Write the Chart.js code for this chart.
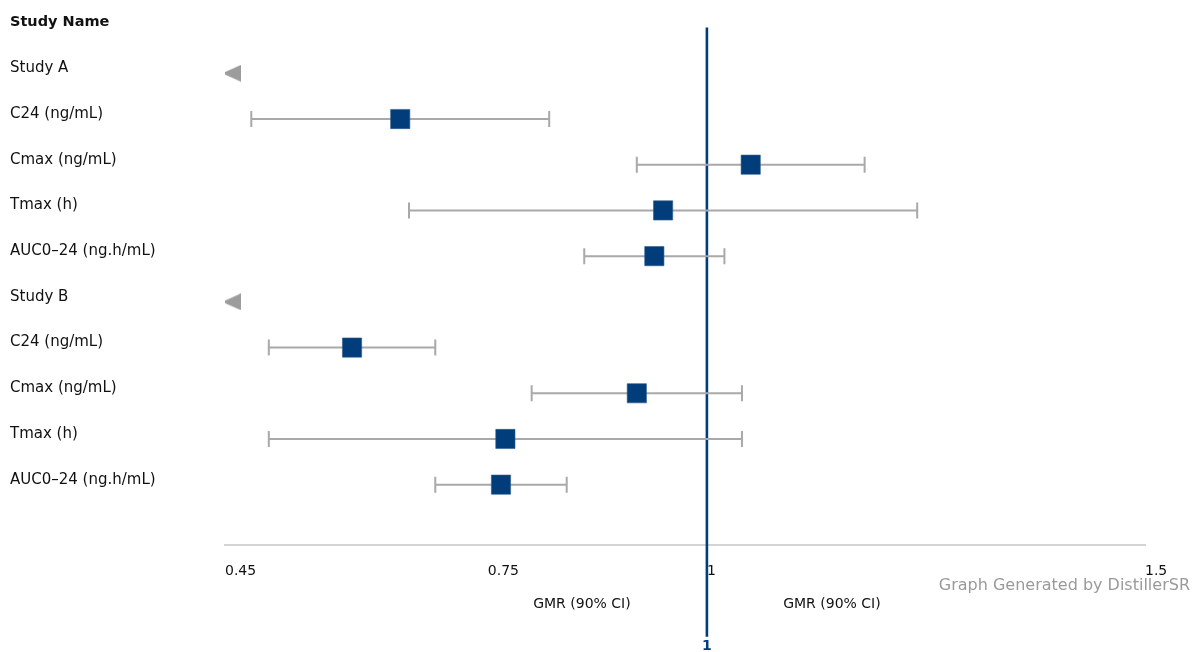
<!DOCTYPE html>
<html>
<head>
<meta charset="utf-8">
<title>GMR forest plot</title>
<script src="https://cdn.jsdelivr.net/npm/chart.js@4.4.0/dist/chart.umd.min.js"></script>
<style>
  html, body { margin: 0; padding: 0; background: #fff; }
  #wrap { width: 1192px; height: 652px; position: relative; }
</style>
</head>
<body>
<div id="wrap"><canvas id="forest"></canvas></div>
<script>
// rows are numbered from the top, the header sits on row -1
const headerLabel = 'Study Name';
const rowLabels = ['Study A', 'C24 (ng/mL)', 'Cmax (ng/mL)', 'Tmax (h)', 'AUC0\u201324 (ng.h/mL)',
                   'Study B', 'C24 (ng/mL)', 'Cmax (ng/mL)', 'Tmax (h)', 'AUC0\u201324 (ng.h/mL)'];

// group rows get the little grey arrow
const groupRows = [0, 5];
const groupArrowX = [0.4576, 0.4576];

// outcome rows with point estimate and 90% CI
const outcomeRows = [1, 2, 3, 4, 6, 7, 8, 9];
const gmr    = [0.65, 1.05, 0.95, 0.94, 0.595, 0.92, 0.77, 0.765];
const ciLow  = [0.48, 0.92, 0.66, 0.86, 0.50, 0.80, 0.50, 0.69];
const ciHigh = [0.82, 1.18, 1.24, 1.02, 0.69, 1.04, 1.04, 0.84];

const xTicks = [0.45, 0.75, 1, 1.5];
const refValue = 1;
const axisTitle = 'GMR (90% CI)';
const credit = 'Graph Generated by DistillerSR';

const NAVY = '#003d7a';
const GREY = '#a9a9a9';
const FONT = '"DejaVu Sans", Verdana, sans-serif';

// left pointing arrow used as point style
const arrow = document.createElement('canvas');
arrow.width = 19; arrow.height = 17;
(function () {
  const c = arrow.getContext('2d');
  c.fillStyle = '#9c9c9c';
  c.beginPath();
  c.moveTo(0, 8.5); c.lineTo(19, 0); c.lineTo(19, 17);
  c.closePath(); c.fill();
})();

const datasets = [];

// reference line at GMR = 1, runs down past the axis
datasets.push({
  type: 'line',
  data: [{x: refValue, y: -1}, {x: refValue, y: 12.33}],
  borderColor: NAVY, borderWidth: 2.6,
  pointRadius: 0, clip: false, order: 4
});

// CI whiskers, one little line per row
outcomeRows.forEach((r, i) => {
  datasets.push({
    type: 'line',
    data: [{x: ciLow[i], y: r}, {x: ciHigh[i], y: r}],
    borderColor: GREY, borderWidth: 2,
    pointStyle: 'line', pointRotation: 90, pointRadius: 8,
    pointBorderColor: GREY, pointBorderWidth: 2,
    order: 3
  });
});

// point estimates
datasets.push({
  type: 'scatter',
  data: outcomeRows.map((r, i) => ({x: gmr[i], y: r})),
  pointStyle: 'rect', pointRadius: 13.6,
  backgroundColor: NAVY, borderColor: '#2d5d8f', borderWidth: 0.6,
  order: 1
});

// group arrows
datasets.push({
  type: 'scatter',
  data: groupRows.map((r, i) => ({x: groupArrowX[i], y: r})),
  pointStyle: arrow, pointRadius: 10,
  order: 2
});

const extraText = {
  id: 'extraText',
  afterDraw(chart) {
    const ctx = chart.ctx;
    const px = chart.scales.x.getPixelForValue(refValue);
    ctx.save();
    ctx.textBaseline = 'middle';
    ctx.textAlign = 'center';
    ctx.fillStyle = '#111';
    ctx.font = '14px ' + FONT;
    ctx.fillText(axisTitle, px - 125, 604);
    ctx.fillText(axisTitle, px + 125, 604);
    ctx.font = 'bold 14px ' + FONT;
    ctx.fillStyle = NAVY;
    ctx.fillText(String(refValue), px, 646);
    ctx.font = '16px ' + FONT;
    ctx.fillStyle = '#9a9a9a';
    ctx.textAlign = 'right';
    ctx.fillText(credit, 1190, 586);
    ctx.restore();
  }
};

new Chart(document.getElementById('forest'), {
  type: 'scatter',
  data: { datasets: datasets },
  plugins: [extraText],
  options: {
    responsive: true,
    maintainAspectRatio: false,
    animation: false,
    events: [],
    layout: { padding: { left: 10, right: 47, top: 27.6, bottom: 0 } },
    plugins: { legend: { display: false }, tooltip: { enabled: false } },
    scales: {
      x: {
        type: 'linear', min: 0.45, max: 1.5,
        afterBuildTicks: (s) => { s.ticks = xTicks.map(v => ({value: v})); },
        afterFit: (s) => { s.height = 107; },
        ticks: {
          align: 'start', padding: 18, color: '#111',
          font: { family: FONT, size: 14 },
          callback: (v) => String(v)
        },
        grid: { display: false, drawTicks: false },
        border: { display: true, color: '#d4d4d4', width: 2 }
      },
      y: {
        type: 'linear', reverse: true, min: -1, max: 10.32,
        afterBuildTicks: (s) => {
          const t = [{value: -1}];
          rowLabels.forEach((l, i) => t.push({value: i}));
          s.ticks = t;
        },
        afterFit: (s) => { s.width = 215; },
        ticks: {
          crossAlign: 'far', labelOffset: -5, autoSkip: false, color: '#111',
          font: (c) => (c.tick && c.tick.value === -1)
            ? { family: FONT, size: 14.5, weight: 'bold' }
            : { family: FONT, size: 15, weight: 'normal' },
          callback: (v) => v === -1 ? headerLabel : rowLabels[v]
        },
        grid: { display: false },
        border: { display: false }
      }
    }
  }
});
</script>
</body>
</html>
